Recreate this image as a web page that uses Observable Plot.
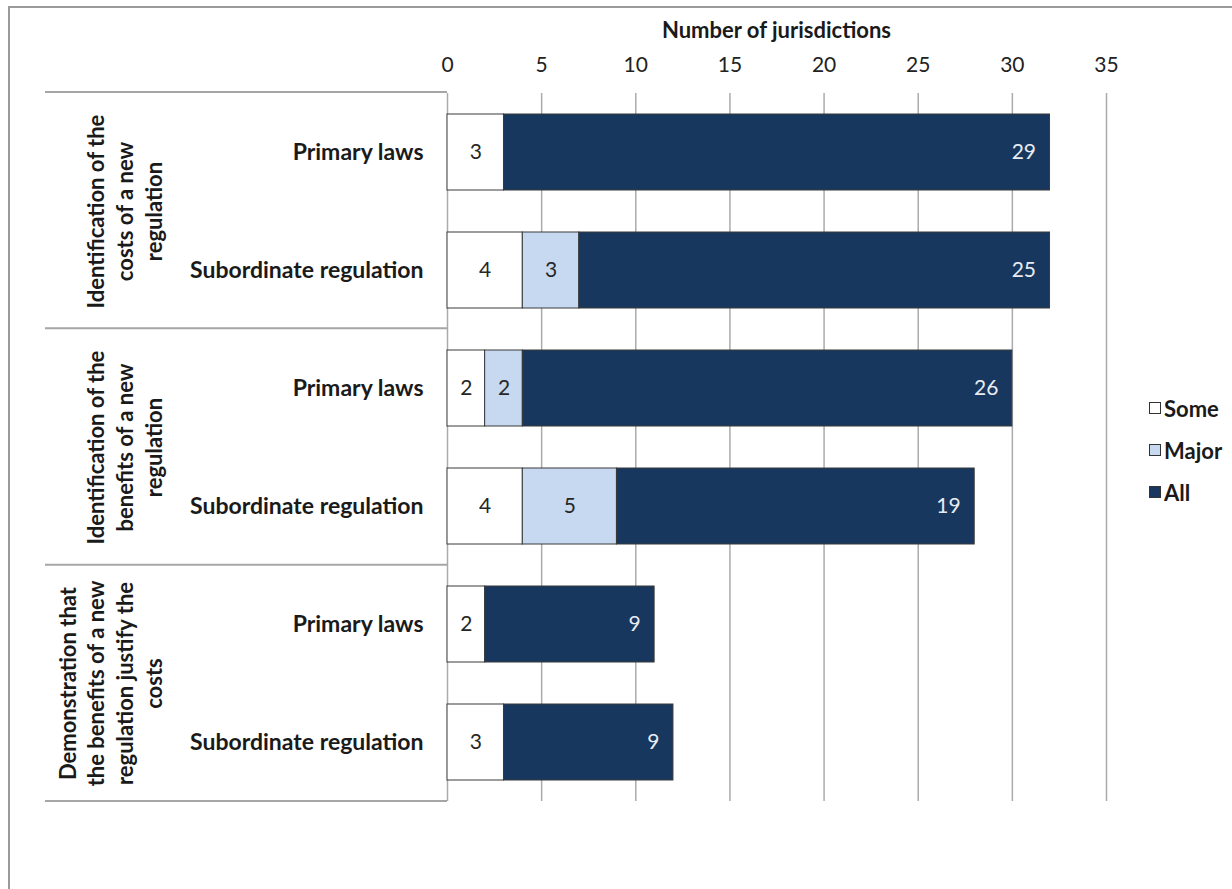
<!DOCTYPE html>
<html><head><meta charset="utf-8">
<script src="https://cdn.jsdelivr.net/npm/d3@7"></script>
<script src="https://cdn.jsdelivr.net/npm/@observablehq/plot@0.6"></script>
<style>
body{margin:0;background:#fff;font-family:Lato,"Open Sans",sans-serif;}
#wrap{position:relative;width:1232px;height:889px;overflow:hidden;}
#frame{position:absolute;left:8px;top:6px;right:-10px;bottom:-10px;border-left:2px solid #9a9a9a;border-top:2px solid #9a9a9a;}
#title{position:absolute;left:447px;width:659px;top:15px;text-align:center;font-weight:bold;font-size:22px;line-height:30px;color:#1a1a1a;}
#legend{position:absolute;left:1149px;top:387px;}
.item{display:flex;align-items:center;height:42px;font-weight:bold;font-size:22px;color:#1a1a1a}
.sw{width:12px;height:12px;border:1px solid #333;margin-right:3px;box-sizing:border-box}
#chart{position:absolute;left:0;top:0;}
</style></head><body><div id="wrap"><div id="frame"></div><div id="chart"></div><div id="title">Number of jurisdictions</div><div id="legend"></div></div>
<script>
const groups = [
  "Identification of the\ncosts of a new\nregulation",
  "Identification of the\nbenefits of a new\nregulation",
  "Demonstration that\nthe benefits of a new\nregulation justify the\ncosts"
];
const types = ["Primary laws", "Subordinate regulation"];
const levels = ["Some", "Major", "All"];
const colors = ["#ffffff", "#c6d9f1", "#17375e"];
// rows in order: group1 primary, group1 subordinate, group2 primary, ...
const someVals  = [3, 4, 2, 4, 2, 3];
const majorVals = [0, 3, 2, 5, 0, 0];
const allVals   = [29, 25, 26, 19, 9, 9];
const xTicks = [0, 5, 10, 15, 20, 25, 30, 35];

const rows = [];
groups.forEach((g, gi) => types.forEach((t, ti) => rows.push({group: g, type: t, i: gi * 2 + ti})));
const series = {Some: someVals, Major: majorVals, All: allVals};
const data = [];
rows.forEach(r => levels.forEach(l => {
  const v = series[l][r.i];
  if (v > 0) data.push({group: r.group, type: r.type, level: l, value: v});
}));
const groupRows = groups.map(g => ({group: g}));

const W = 1232, H = 889, mL = 447, mR = 126, mT = 92, mB = 88;

const plot = Plot.plot({
  width: W, height: H,
  marginLeft: mL, marginRight: mR, marginTop: mT, marginBottom: mB,
  style: {fontFamily: "Lato, sans-serif", fontSize: "21px", color: "#222", background: "transparent", overflow: "visible"},
  x: {domain: [0, 35], ticks: xTicks, axis: "top", tickSize: 0, tickPadding: 22, label: null},
  y: {domain: types, axis: null, paddingInner: 0.36, paddingOuter: 0.18},
  fy: {domain: groups, axis: null, padding: 0},
  color: {domain: levels, range: colors},
  marks: [
    Plot.ruleX(xTicks, {stroke: "#ababab", strokeWidth: 1.5}),
    Plot.barX(data, Plot.stackX({x: "value", y: "type", fy: "group", fill: "level", order: levels, stroke: "#3a3a3a", strokeWidth: 1})),
    Plot.text(data, Plot.stackX({x: "value", y: "type", fy: "group", z: "level", order: levels,
      text: d => d.level === "All" ? null : String(d.value), fill: "#262626", fontSize: 21})),
    Plot.text(data, Plot.stackX2({x: "value", y: "type", fy: "group", z: "level", order: levels,
      text: d => d.level === "All" ? String(d.value) : null, textAnchor: "end", dx: -14, fill: "#e8ecf2", fontSize: 21})),
    Plot.text(rows, {y: "type", fy: "group", frameAnchor: "left", text: "type", textAnchor: "end", dx: -24,
      fontWeight: "bold", fontSize: 23, fill: "#1a1a1a"}),
    Plot.text(groupRows, {fy: "group", frameAnchor: "left", text: "group", rotate: -90, textAnchor: "middle",
      lineAnchor: "bottom", dx: -286, fontWeight: "bold", fontSize: 22, lineHeight: 1.3, fill: "#1a1a1a"})
  ]
});

// table separator lines in the label area
const svg = d3.select(plot);
const fyStep = (H - mT - mB) / groups.length;
for (let k = 0; k <= groups.length; k++) {
  svg.append("line").attr("x1", 45).attr("x2", mL).attr("y1", mT + k * fyStep).attr("y2", mT + k * fyStep)
    .attr("stroke", "#a6a6a6").attr("stroke-width", 2);
}
document.getElementById("chart").appendChild(plot);

const leg = d3.select("#legend");
levels.forEach((l, i) => {
  const it = leg.append("div").attr("class", "item");
  it.append("div").attr("class", "sw").style("background", colors[i]);
  it.append("span").text(l);
});
</script></body></html>
